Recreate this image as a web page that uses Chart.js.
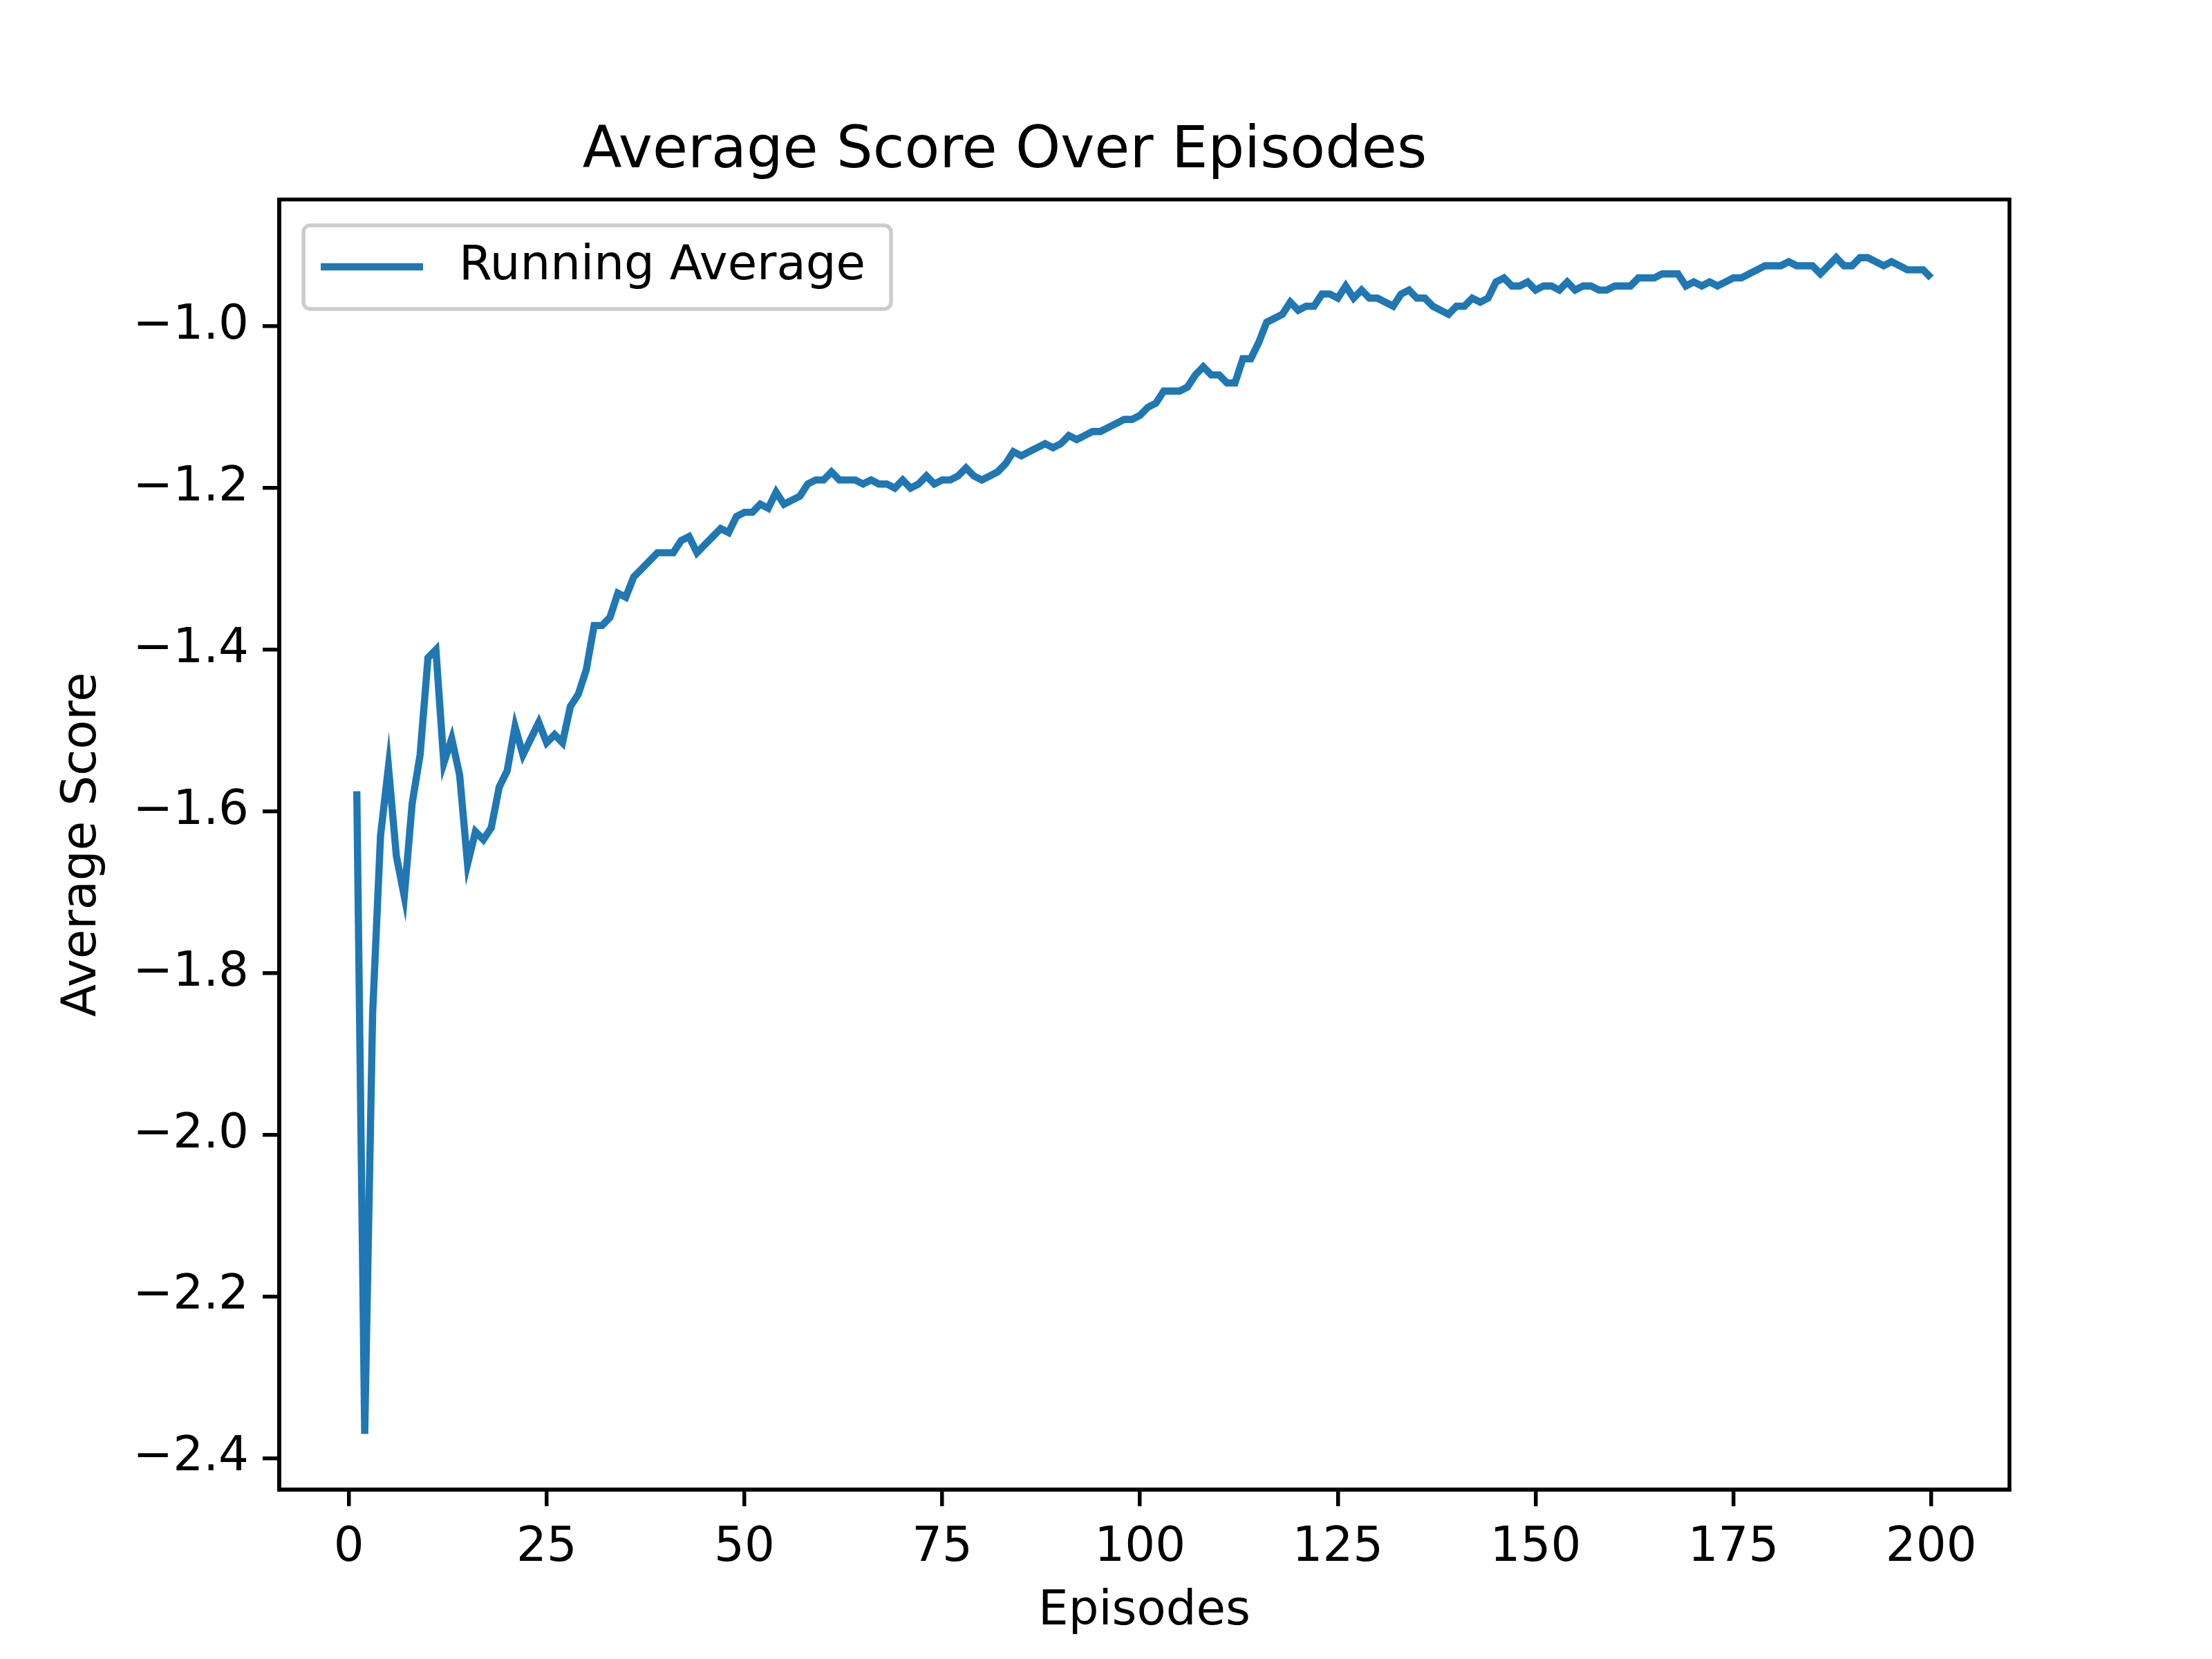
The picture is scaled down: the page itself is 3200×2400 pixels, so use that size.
<!DOCTYPE html>
<html><head><meta charset="utf-8">
<script src="https://cdn.jsdelivr.net/npm/chart.js@4"></script>
<style>html,body{margin:0;padding:0;background:#fff}</style>
</head><body>
<canvas id="c" width="3200" height="2400"></canvas>
<script>
const episodes = Array.from({length:200},(_,i)=>i+1);
const runningAverage = [
-1.575,-2.37,-1.85,-1.63,-1.545,-1.655,-1.705,-1.59,-1.53,-1.41,
-1.40,-1.54,-1.51,-1.555,-1.665,-1.625,-1.635,-1.62,-1.57,-1.55,
-1.495,-1.53,-1.51,-1.49,-1.515,-1.505,-1.515,-1.47,-1.455,-1.425,
-1.37,-1.37,-1.36,-1.33,-1.335,-1.31,-1.30,-1.29,-1.28,-1.28,
-1.28,-1.265,-1.26,-1.28,-1.27,-1.26,-1.25,-1.255,-1.235,-1.23,
-1.23,-1.22,-1.225,-1.205,-1.22,-1.215,-1.21,-1.195,-1.19,-1.19,
-1.18,-1.19,-1.19,-1.19,-1.195,-1.19,-1.195,-1.195,-1.20,-1.19,
-1.20,-1.195,-1.185,-1.195,-1.19,-1.19,-1.185,-1.175,-1.185,-1.19,
-1.185,-1.18,-1.17,-1.155,-1.16,-1.155,-1.15,-1.145,-1.15,-1.145,
-1.135,-1.14,-1.135,-1.13,-1.13,-1.125,-1.12,-1.115,-1.115,-1.11,
-1.10,-1.095,-1.08,-1.08,-1.08,-1.075,-1.06,-1.05,-1.06,-1.06,
-1.07,-1.07,-1.04,-1.04,-1.02,-0.995,-0.99,-0.985,-0.97,-0.98,
-0.975,-0.975,-0.96,-0.96,-0.965,-0.95,-0.965,-0.955,-0.965,-0.965,
-0.97,-0.975,-0.96,-0.955,-0.965,-0.965,-0.975,-0.98,-0.985,-0.975,
-0.975,-0.965,-0.97,-0.965,-0.945,-0.94,-0.95,-0.95,-0.945,-0.955,
-0.95,-0.95,-0.955,-0.945,-0.955,-0.95,-0.95,-0.955,-0.955,-0.95,
-0.95,-0.95,-0.94,-0.94,-0.94,-0.935,-0.935,-0.935,-0.95,-0.945,
-0.95,-0.945,-0.95,-0.945,-0.94,-0.94,-0.935,-0.93,-0.925,-0.925,
-0.925,-0.92,-0.925,-0.925,-0.925,-0.935,-0.925,-0.915,-0.925,-0.925,
-0.915,-0.915,-0.92,-0.925,-0.92,-0.925,-0.93,-0.93,-0.93,-0.94];
const xTicks = [0,25,50,75,100,125,150,175,200];
const yTicks = [-2.4,-2.2,-2.0,-1.8,-1.6,-1.4,-1.2,-1.0];
const seriesLabel = 'Running Average';
const titleText = 'Average Score Over Episodes';
const xTitle = 'Episodes', yTitle = 'Average Score';

const FONT = 'DejaVu Sans';
const color = '#1f77b4';
const frame = {
  id:'frame',
  afterDraw(chart){
    const {ctx, chartArea:a} = chart;
    ctx.save();
    ctx.strokeStyle='#000'; ctx.lineWidth=5.5;
    ctx.strokeRect(a.left,a.top,a.right-a.left,a.bottom-a.top);
    // legend
    const x0=439,y0=326,w=850,h=121;
    ctx.fillStyle='rgba(255,255,255,0.8)';
    ctx.strokeStyle='#cccccc'; ctx.lineWidth=5.5;
    ctx.beginPath(); ctx.roundRect(x0,y0,w,h,10); ctx.fill(); ctx.stroke();
    ctx.strokeStyle=color; ctx.lineWidth=10.4;
    ctx.beginPath(); ctx.moveTo(464,386); ctx.lineTo(612,386); ctx.stroke();
    ctx.fillStyle='#000'; ctx.font='69px "'+FONT+'"'; ctx.textBaseline='middle';
    ctx.fillText(seriesLabel,664,386);
    ctx.restore();
  }
};
const tickCfg = {color:'#000', font:{family:FONT,size:69}, padding:20};
const gridCfg = {drawOnChartArea:false, drawTicks:true, tickLength:24, color:'#000', lineWidth:5.5};
new Chart(document.getElementById('c'),{
  type:'line',
  data:{labels:episodes, datasets:[{label:seriesLabel, data:episodes.map((e,i)=>({x:e,y:runningAverage[i]})),
    borderColor:color, borderWidth:10.4, pointRadius:0, tension:0, fill:false}]},
  options:{
    responsive:false, animation:false, devicePixelRatio:1,
    layout:{padding:{left:0,top:0,right:293,bottom:0}},
    plugins:{
      legend:{display:false}, tooltip:{enabled:false},
      title:{display:true,text:titleText,color:'#000',font:{family:FONT,size:83,weight:'normal'},padding:{top:171,bottom:18}}
    },
    scales:{
      x:{type:'linear',min:-8.8,max:209.9,
        afterBuildTicks(s){s.ticks=xTicks.map(v=>({value:v}));},
        afterFit(s){s.height=245;},
        ticks:{...tickCfg, callback:v=>String(v)},
        grid:gridCfg, border:{display:true,color:'#000',width:5.5},
        title:{display:true,text:xTitle,color:'#000',font:{family:FONT,size:69},padding:{top:0,bottom:27}}},
      y:{type:'linear',min:-2.439,max:-0.843,
        afterBuildTicks(s){s.ticks=yTicks.map(v=>({value:v}));},
        afterFit(s){s.width=404;},
        ticks:{...tickCfg, callback:v=>v.toFixed(1).replace('-','\u2212')},
        grid:gridCfg, border:{display:true,color:'#000',width:5.5},
        title:{display:true,text:yTitle,color:'#000',font:{family:FONT,size:69},padding:{top:79,bottom:0}}}
    }
  },
  plugins:[frame]
});
</script>
</body></html>
